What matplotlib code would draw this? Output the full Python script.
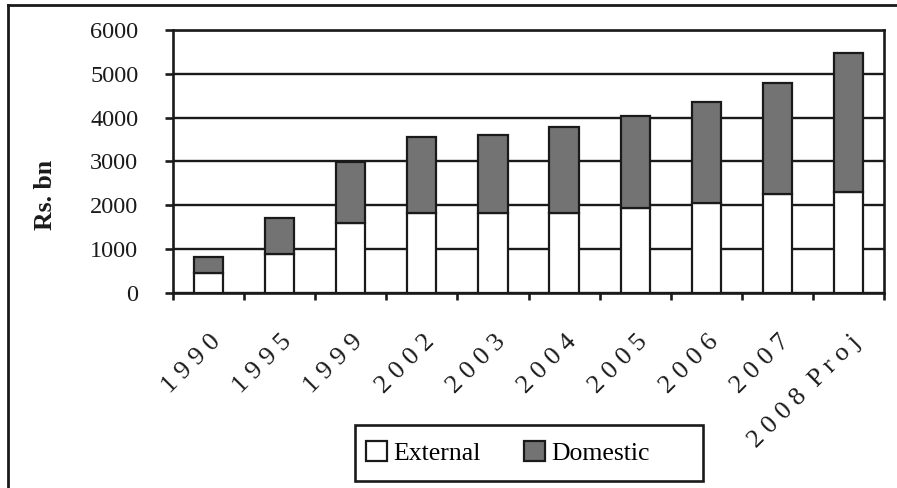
import matplotlib
matplotlib.use("Agg")
import matplotlib.pyplot as plt
from matplotlib.patches import Rectangle, Patch
from matplotlib.lines import Line2D
from matplotlib.transforms import ScaledTranslation
import numpy as np

# Debt stock, Rs. bn
years = ["1990", "1995", "1999", "2002", "2003", "2004", "2005", "2006", "2007", "2008 Proj"]
external = [440, 880, 1600, 1820, 1820, 1820, 1940, 2040, 2250, 2290]
total = [820, 1710, 2980, 3560, 3610, 3780, 4040, 4360, 4800, 5470]
domestic = [t - e for t, e in zip(total, external)]
y_ticks = [0, 1000, 2000, 3000, 4000, 5000, 6000]

W, H, DPI = 897, 488, 100
plt.rcParams["font.family"] = ["Liberation Serif", "DejaVu Serif"]

fig = plt.figure(figsize=(W / DPI, H / DPI), dpi=DPI)
ax = fig.add_axes([173 / W, (H - 292.7) / H, 711 / W, 262.7 / H])

x = np.arange(len(years))
grey = "#737373"
ink = "#1a1a1a"
bw = 0.41
ax.bar(x, external, width=bw, color="white", edgecolor=ink, linewidth=1.6, zorder=3)
ax.bar(x, domestic, width=bw, bottom=external, color=grey, edgecolor=ink,
       linewidth=1.6, zorder=3)

ax.set_xlim(-0.5, len(years) - 0.5)
ax.set_ylim(0, 6000)
ax.set_yticks(y_ticks)
ax.set_yticklabels([str(v) for v in y_ticks], fontsize=17.5)
ax.yaxis.grid(True, color=ink, linewidth=1.7)
ax.set_axisbelow(True)

for s in ax.spines.values():
    s.set_color(ink)
    s.set_linewidth(1.9)

ax.tick_params(axis="y", direction="out", length=6, width=1.9, pad=19, colors=ink)
ax.set_xticks(np.arange(len(years) + 1) - 0.5)
ax.set_xticklabels([])
ax.tick_params(axis="x", direction="out", length=5, width=1.9, colors=ink)

# rotated, letter-spaced category labels
trans = ax.get_xaxis_transform() + ScaledTranslation(9 / DPI, -46 / DPI, fig.dpi_scale_trans)
for xi, lab in zip(x, years):
    spaced = " ".join(lab).replace("   ", "  ")
    ax.text(xi, 0, spaced, transform=trans, rotation=45, rotation_mode="anchor",
            ha="right", va="center", fontsize=19, color=ink)

fig.text(45 / W, 1 - 195 / H, "Rs. bn", rotation=90, ha="center", va="center",
         fontsize=18.5, fontweight="bold", color=ink)

# legend box and entries
fig.patches.append(Rectangle((355 / W, 1 - 481 / H), (703 - 355) / W, (481 - 425) / H,
                             transform=fig.transFigure, facecolor="white",
                             edgecolor=ink, linewidth=1.9))
handles = [Patch(facecolor="white", edgecolor=ink, linewidth=1.6, label="External"),
           Patch(facecolor=grey, edgecolor=ink, linewidth=1.6, label="Domestic")]
fig.legend(handles=handles, loc="center left", bbox_to_anchor=(366 / W, 1 - 453 / H),
           ncol=2, frameon=False, fontsize=18.5, handlelength=0.8, handleheight=0.8,
           handletextpad=0.25, columnspacing=1.7, borderpad=0, borderaxespad=0)

# outer frame lines
fig.lines.append(Line2D([8 / W, 8 / W], [0, 1 - 5 / H], transform=fig.transFigure,
                        color=ink, linewidth=2))
fig.lines.append(Line2D([8 / W, 1], [1 - 5 / H, 1 - 5 / H], transform=fig.transFigure,
                        color=ink, linewidth=2))

fig.savefig("out.png", dpi=DPI, facecolor="white")
